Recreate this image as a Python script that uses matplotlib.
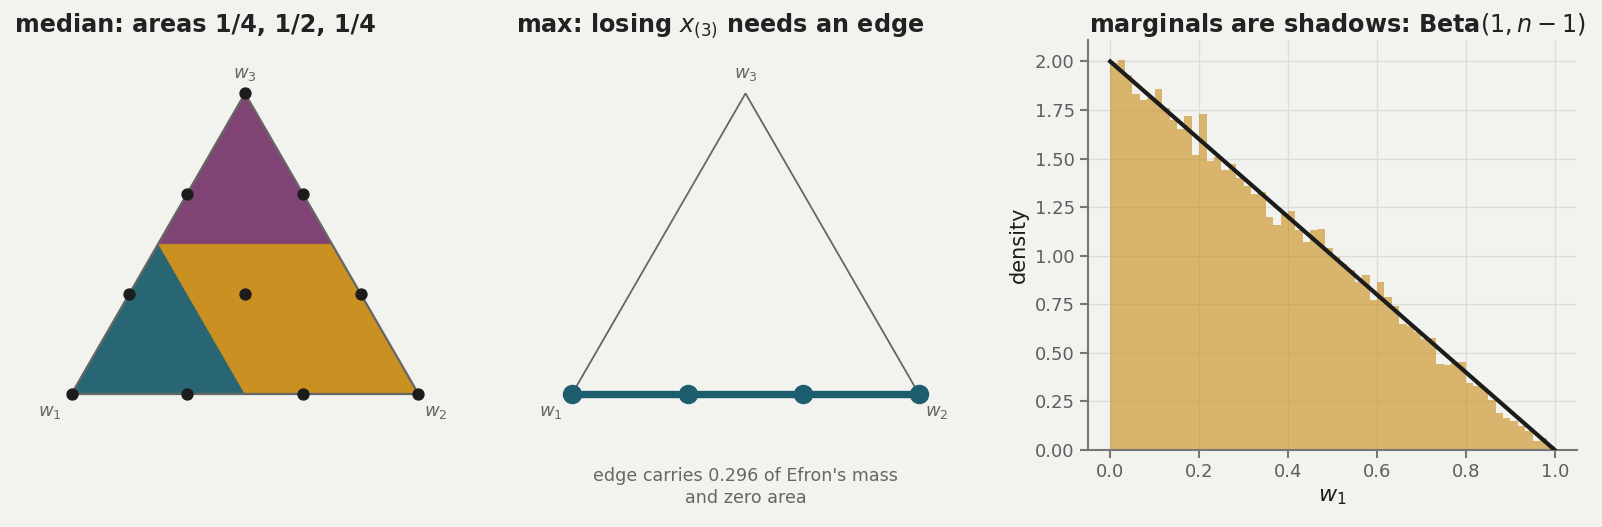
import numpy as np
import matplotlib
matplotlib.use("Agg")
import matplotlib.pyplot as plt
from matplotlib.patches import Polygon
from matplotlib.ticker import MultipleLocator

BG = "#f2f2ee"
TEAL = "#1d5e6e"
PURPLE = "#7a3b6d"
GOLD = "#c98b17"
INK = "#1c1c1c"
GREY = "#666666"

# panel titles
titles = ["median: areas 1/4, 1/2, 1/4",
          "max: losing $x_{(3)}$ needs an edge",
          "marginals are shadows: Beta$(1, n-1)$"]
caption = "edge carries 0.296 of Efron's mass\nand zero area"

# simplex grid size (points i/n)
grid_n = 3

# median regions, barycentric corners (w1, w2, w3)
region_w1 = [(1, 0, 0), (0.5, 0.5, 0), (0.5, 0, 0.5)]
region_mid = [(0.5, 0.5, 0), (0, 1, 0), (0, 0.5, 0.5), (0.5, 0, 0.5)]
region_w3 = [(0, 0, 1), (0.5, 0, 0.5), (0, 0.5, 0.5)]

# histogram of w1 (60 bins on [0, 1])
hist_heights = [1.99, 2.01, 1.93, 1.83, 1.80, 1.81, 1.86, 1.76, 1.70, 1.65,
                1.72, 1.52, 1.73, 1.49, 1.51, 1.44, 1.47, 1.40, 1.36, 1.32,
                1.33, 1.20, 1.16, 1.22, 1.23, 1.13, 1.07, 1.13, 1.14, 1.04,
                0.995, 0.955, 0.926, 0.866, 0.90, 0.77, 0.864, 0.786, 0.74, 0.647,
                0.636, 0.607, 0.569, 0.579, 0.445, 0.436, 0.455, 0.455, 0.345, 0.328,
                0.318, 0.255, 0.19, 0.163, 0.15, 0.121, 0.10, 0.047, 0.06, 0.02]
bin_edges = np.linspace(0, 1, len(hist_heights) + 1)

# Beta(1, 2) density end points
beta_x = [0, 1]
beta_y = [2, 0]


def to_xy(w):
    w1, w2, w3 = w
    return (w2 + 0.5 * w3, w3 * np.sqrt(3) / 2)


def draw_simplex(ax, outline_lw):
    corners = [to_xy(c) for c in [(1, 0, 0), (0, 1, 0), (0, 0, 1)]]
    ax.add_patch(Polygon(corners, closed=True, fill=False, ec=GREY, lw=outline_lw, zorder=3))
    h = np.sqrt(3) / 2
    ax.text(-0.062, -0.052, "$w_1$", ha="center", va="center", color=GREY, fontsize=13)
    ax.text(1.05, -0.052, "$w_2$", ha="center", va="center", color=GREY, fontsize=13)
    ax.text(0.5, h + 0.055, "$w_3$", ha="center", va="center", color=GREY, fontsize=13)
    ax.set_xlim(-0.15, 1.15)
    ax.set_ylim(-0.34, 1.02)
    ax.axis("off")


W, H = 1602, 527
fig = plt.figure(figsize=(W / 100, H / 100), dpi=100, facecolor=BG)
title_kw = dict(fontsize=17.2, fontweight="bold", color="#222222")

# left panel: median regions
ax1 = fig.add_axes([19.5 / W, 15 / H, 451 / W, 472 / H])
ax1.set_facecolor(BG)
for reg, col in [(region_w1, TEAL), (region_mid, GOLD), (region_w3, PURPLE)]:
    ax1.add_patch(Polygon([to_xy(c) for c in reg], closed=True, fc=col, ec=col,
                          lw=0.5, alpha=0.95, zorder=1))
draw_simplex(ax1, 1.6)
pts = [to_xy((i / grid_n, j / grid_n, (grid_n - i - j) / grid_n))
       for i in range(grid_n + 1) for j in range(grid_n + 1 - i)]
ax1.scatter([p[0] for p in pts], [p[1] for p in pts], s=62, color=INK, zorder=4)
ax1.set_title(titles[0], x=0.391, **title_kw)

# middle panel: the max loses an edge
ax2 = fig.add_axes([520 / W, 15 / H, 451 / W, 472 / H])
ax2.set_facecolor(BG)
draw_simplex(ax2, 1.3)
edge = [to_xy((1 - k / grid_n, k / grid_n, 0)) for k in range(grid_n + 1)]
ax2.plot([p[0] for p in edge], [p[1] for p in edge], color=TEAL, lw=5.3,
         marker="o", ms=13, solid_capstyle="round", zorder=4)
ax2.text(0.5, -0.268, caption, ha="center", va="center", color=GREY,
         fontsize=12.6, linespacing=1.25)
ax2.set_title(titles[1], x=0.443, **title_kw)

# right panel: marginal histogram
ax3 = fig.add_axes([1088 / W, 77 / H, 489 / W, 410 / H])
ax3.set_facecolor(BG)
ax3.bar(bin_edges[:-1], hist_heights, width=np.diff(bin_edges), align="edge",
        color=GOLD, alpha=0.6, lw=0, zorder=2)
ax3.plot(beta_x, beta_y, color=INK, lw=3, zorder=3)
ax3.yaxis.set_major_locator(MultipleLocator(0.25))
ax3.xaxis.set_major_locator(MultipleLocator(0.2))
ax3.grid(True, color="#dcdcd8", lw=1, zorder=0)
ax3.set_axisbelow(True)
for s in ["top", "right"]:
    ax3.spines[s].set_visible(False)
for s in ["left", "bottom"]:
    ax3.spines[s].set_color("#777777")
    ax3.spines[s].set_linewidth(1.5)
ax3.tick_params(colors="#777777", labelcolor="#5a5f5f", labelsize=13, length=6, width=1.5)
ax3.set_xlabel("$w_1$", fontsize=16, color=INK)
ax3.set_ylabel("density", fontsize=15, color=INK)
ax3.set_title(titles[2], x=0.51, **title_kw)

fig.savefig("out.png", dpi=100, facecolor=BG)
